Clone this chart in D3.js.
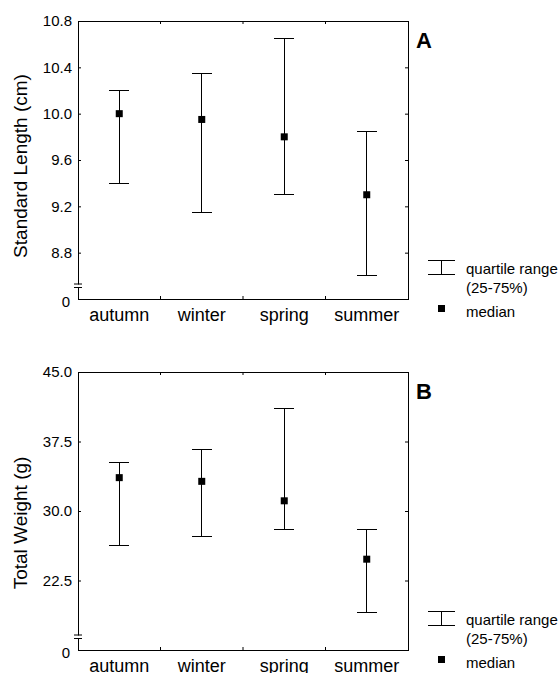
<!DOCTYPE html>
<html>
<head>
    <meta charset="utf-8">
    <style>
        body { margin: 0; background: #fff; }
        svg { display: block; font-family: "Liberation Sans", Arial, sans-serif; }
        .frame { fill: none; stroke: #000; stroke-width: 1; shape-rendering: crispEdges; }
        .bar line { stroke: #000; stroke-width: 1; shape-rendering: crispEdges; }
    </style>
</head>
<body>
    <svg width="560" height="673"></svg>

<script src="https://d3js.org/d3.v7.min.js"></script>
<script>
    // values
    const seasons = ["autumn", "winter", "spring", "summer"];

    const lengthQ1 = [9.40, 9.15, 9.30, 8.60];
    const lengthMedian = [10.00, 9.95, 9.80, 9.30];
    const lengthQ3 = [10.20, 10.35, 10.65, 9.85];
    const lengthTicks = [8.8, 9.2, 9.6, 10.0, 10.4, 10.8];

    const weightQ1 = [26.3, 27.2, 28.0, 19.1];
    const weightMedian = [33.6, 33.2, 31.1, 24.8];
    const weightQ3 = [35.2, 36.6, 41.1, 28.0];
    const weightTicks = [22.5, 30.0, 37.5, 45.0];

    const legendLabels = ["quartile range", "(25-75%)", "median"];

    let svg = d3.select("svg")

    let left = 78, right = 408

    let x = d3.scaleBand()
        .domain(seasons)
        .range([left, right])

    function drawPanel(p) {
        let y = d3.scaleLinear()
            .domain(p.domain)
            .range([p.bottom, p.top])

        let g = svg.append("g")

        // left axis with labels, ticks pointing in
        let ax = g.append("g")
            .attr("transform", `translate(${left},0)`)
            .call(d3.axisLeft(y).tickValues(p.ticks).tickSize(-3).tickPadding(6)
                .tickFormat(d3.format(p.fmt)))
        ax.select(".domain").remove()
        ax.selectAll("text").attr("font-size", 15).attr("fill", "#000")
            .attr("font-family", "Liberation Sans, Arial, sans-serif")
        ax.selectAll("line").attr("stroke", "#000")

        // "0" at the foot of the broken axis
        g.append("text")
            .attr("x", left - 8)
            .attr("y", p.bottom + 3)
            .attr("dy", "0.32em")
            .attr("text-anchor", "end")
            .attr("font-size", 15)
            .text("0")

        // right axis ticks only
        let ar = g.append("g")
            .attr("transform", `translate(${right},0)`)
            .call(d3.axisRight(y).tickValues(p.ticks.slice(0, -1)).tickSize(-3).tickFormat(""))
        ar.select(".domain").remove()
        ar.selectAll("line").attr("stroke", "#000")

        // bottom axis labels
        let ab = g.append("g")
            .attr("transform", `translate(0,${p.bottom})`)
            .call(d3.axisBottom(x).tickSize(0).tickPadding(9))
        ab.select(".domain").remove()
        ab.selectAll("text").attr("font-size", 18).attr("fill", "#000")
            .attr("font-family", "Liberation Sans, Arial, sans-serif")

        // ticks at the category boundaries, top and bottom
        let bounds = seasons.slice(1).map(s => x(s))
        g.append("g").selectAll("line")
            .data(bounds)
            .join("line")
            .attr("x1", d => d).attr("x2", d => d)
            .attr("y1", p.top).attr("y2", p.top + 3)
            .attr("stroke", "#000")
        g.append("g").selectAll("line")
            .data(bounds)
            .join("line")
            .attr("x1", d => d).attr("x2", d => d)
            .attr("y1", p.bottom).attr("y2", p.bottom - 3)
            .attr("stroke", "#000")

        // frame
        g.append("rect")
            .attr("class", "frame")
            .attr("x", left)
            .attr("y", p.top)
            .attr("width", right - left)
            .attr("height", p.bottom - p.top)

        // axis break
        g.append("rect")
            .attr("x", left - 1.5)
            .attr("y", p.bottom - 14.5)
            .attr("width", 3)
            .attr("height", 2.5)
            .attr("fill", "#fff")
        g.append("g").selectAll("line")
            .data([p.bottom - 15, p.bottom - 11.5])
            .join("line")
            .attr("x1", left - 4).attr("x2", left + 4)
            .attr("y1", d => d).attr("y2", d => d)
            .attr("stroke", "#000")

        // quartile bars and medians
        let rows = seasons.map((s, i) => ({ s: s, q1: p.q1[i], med: p.med[i], q3: p.q3[i] }))
        let cx = d => x(d.s) + x.bandwidth() / 2

        let bars = g.append("g").attr("class", "bar")
            .selectAll("g")
            .data(rows)
            .join("g")
        bars.append("line")
            .attr("x1", cx).attr("x2", cx)
            .attr("y1", d => y(d.q1)).attr("y2", d => y(d.q3))
        bars.append("line")
            .attr("x1", d => cx(d) - 10).attr("x2", d => cx(d) + 10)
            .attr("y1", d => y(d.q3)).attr("y2", d => y(d.q3))
        bars.append("line")
            .attr("x1", d => cx(d) - 10).attr("x2", d => cx(d) + 10)
            .attr("y1", d => y(d.q1)).attr("y2", d => y(d.q1))
        bars.append("rect")
            .attr("x", d => cx(d) - 3.5)
            .attr("y", d => y(d.med) - 3.5)
            .attr("width", 7)
            .attr("height", 7)
            .attr("fill", "#000")

        // y title
        g.append("text")
            .attr("transform", `translate(27,${p.titleY}) rotate(-90)`)
            .attr("text-anchor", "middle")
            .attr("font-size", 19)
            .text(p.title)

        // panel letter
        g.append("text")
            .attr("x", 416)
            .attr("y", p.top + 27)
            .attr("font-size", 22)
            .attr("font-weight", "bold")
            .text(p.letter)

        // legend
        let lg = g.append("g").attr("class", "bar")
        lg.append("line").attr("x1", 428).attr("x2", 455)
            .attr("y1", p.bottom - 38.5).attr("y2", p.bottom - 38.5)
        lg.append("line").attr("x1", 428).attr("x2", 455)
            .attr("y1", p.bottom - 25).attr("y2", p.bottom - 25)
        lg.append("line").attr("x1", 441).attr("x2", 441)
            .attr("y1", p.bottom - 38.5).attr("y2", p.bottom - 25)
        lg.append("rect")
            .attr("x", 441.5 - 3.5).attr("y", p.bottom + 9.5 - 3.5)
            .attr("width", 7).attr("height", 7)
            .attr("fill", "#000")
        lg.selectAll("text")
            .data(legendLabels)
            .join("text")
            .attr("x", 466)
            .attr("y", (d, i) => p.bottom + [-25, -6, 17.5][i])
            .attr("font-size", 15)
            .text(d => d)
    }

    drawPanel({
        top: 21, bottom: 299,
        domain: [8.4, 10.8], ticks: lengthTicks, fmt: ".1f",
        q1: lengthQ1, med: lengthMedian, q3: lengthQ3,
        title: "Standard Length (cm)", titleY: 166, letter: "A"
    })

    drawPanel({
        top: 372, bottom: 650,
        domain: [15, 45], ticks: weightTicks, fmt: ".1f",
        q1: weightQ1, med: weightMedian, q3: weightQ3,
        title: "Total Weight (g)", titleY: 523, letter: "B"
    })
</script>
</body>
</html>
